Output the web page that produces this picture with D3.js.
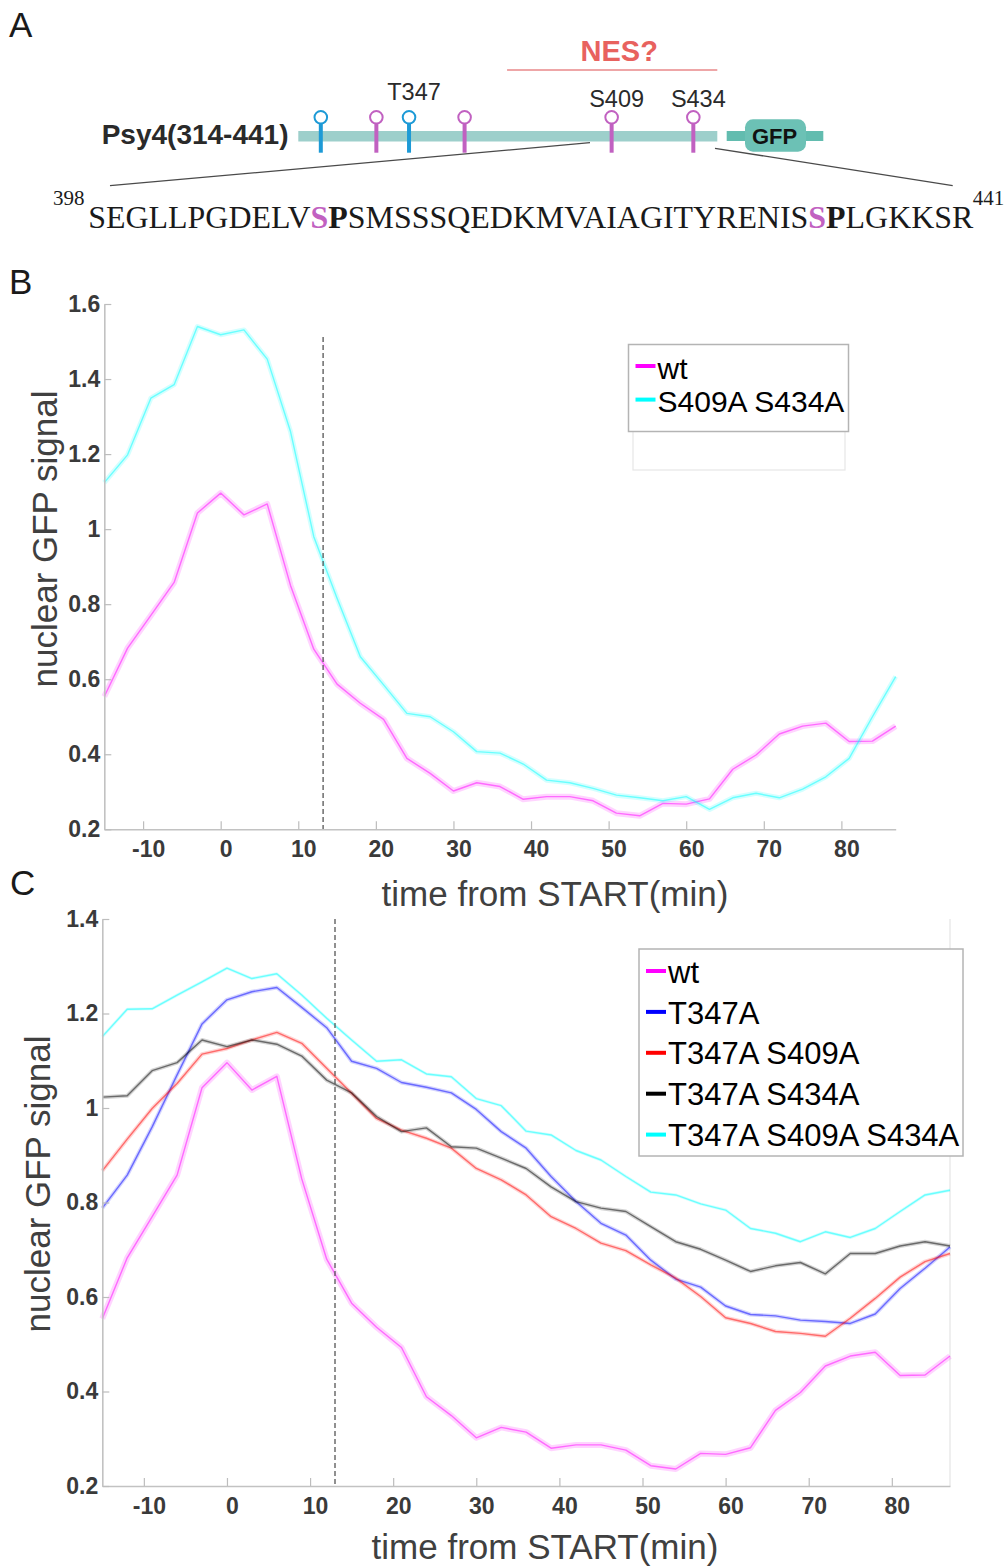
<!DOCTYPE html>
<html>
<head>
<meta charset="utf-8">
<script src="https://cdn.jsdelivr.net/npm/d3@7"></script>
<style>
body { margin: 0; background: #fff; }
svg { display: block; font-family: "Liberation Sans", Arial, Helvetica, sans-serif; }
</style>
</head>
<body>
<div id="fig"></div>
<script>
var width = 1006, height = 1566;

// ---- panel A: construct diagram ----
var constructName = "Psy4(314-441)";
var constructRange = [314, 441];
var siteRes = [320, 337, 347, 364, 409, 434];
var siteKind = ["TP", "SP", "TP", "SP", "SP", "SP"];
var siteNames = ["", "", "T347", "", "S409", "S434"];
var nesRange = [377, 441];
var seq = "SEGLLPGDELVSPSMSSSQEDKMVAIAGITYRENISSPLGKKSR";
var seqStart = 398, seqEnd = 441;
var seqSites = [409, 434];

// ---- panels B and C: time courses ----
var times = [-15, -12, -9, -6, -3, 0, 3, 6, 9, 12, 15, 18, 21, 24, 27, 30, 33, 36,
             39, 42, 45, 48, 51, 54, 57, 60, 63, 66, 69, 72, 75, 78, 81, 84, 87];
var xTicks = [-10, 0, 10, 20, 30, 40, 50, 60, 70, 80];
var yTicksB = [0.2, 0.4, 0.6, 0.8, 1.0, 1.2, 1.4, 1.6];
var yTicksC = [0.2, 0.4, 0.6, 0.8, 1.0, 1.2, 1.4];
var startLineB = 13.2, startLineC = 13.0;

var wt = [0.554, 0.683, 0.77, 0.858, 1.043, 1.096, 1.038, 1.067, 0.85, 0.68, 0.587, 0.536,
          0.493, 0.389, 0.349, 0.302, 0.324, 0.314, 0.28, 0.287, 0.287, 0.276, 0.243, 0.236,
          0.269, 0.267, 0.281, 0.36, 0.398, 0.454, 0.475, 0.483, 0.434, 0.435, 0.475];
var s409as434a = [1.124, 1.198, 1.349, 1.385, 1.540, 1.518, 1.531, 1.453, 1.26, 0.98, 0.816, 0.66,
                  0.585, 0.509, 0.50, 0.46, 0.407, 0.403, 0.374, 0.331, 0.324, 0.309, 0.291, 0.284,
                  0.276, 0.287, 0.253, 0.284, 0.296, 0.284, 0.307, 0.34, 0.389, 0.50, 0.607];
var t347a = [0.788, 0.858, 0.960, 1.070, 1.178, 1.229, 1.246, 1.255, 1.213, 1.17, 1.099, 1.084,
             1.054, 1.044, 1.032, 0.997, 0.95, 0.915, 0.855, 0.802, 0.756, 0.731, 0.678, 0.638,
             0.621, 0.581, 0.563, 0.560, 0.551, 0.548, 0.544, 0.564, 0.618, 0.661, 0.706];
var t347as409a = [0.867, 0.934, 0.999, 1.052, 1.114, 1.126, 1.144, 1.160, 1.137, 1.084, 1.031, 0.978,
                  0.953, 0.936, 0.915, 0.872, 0.848, 0.816, 0.770, 0.745, 0.714, 0.698, 0.668, 0.640,
                  0.601, 0.556, 0.544, 0.527, 0.523, 0.517, 0.555, 0.597, 0.642, 0.675, 0.692];
var t347as434a = [1.023, 1.026, 1.079, 1.096, 1.144, 1.130, 1.144, 1.135, 1.110, 1.059, 1.032, 0.982,
                  0.950, 0.958, 0.918, 0.915, 0.894, 0.872, 0.833, 0.802, 0.788, 0.781, 0.749, 0.717,
                  0.701, 0.678, 0.654, 0.666, 0.673, 0.649, 0.692, 0.692, 0.708, 0.717, 0.708];
var t347as409as434a = [1.151, 1.209, 1.210, 1.239, 1.267, 1.296, 1.274, 1.284, 1.239, 1.190, 1.144, 1.099,
                       1.102, 1.072, 1.066, 1.020, 1.005, 0.951, 0.943, 0.910, 0.890, 0.855, 0.822, 0.816,
                       0.797, 0.784, 0.745, 0.735, 0.717, 0.738, 0.726, 0.745, 0.781, 0.816, 0.826];

var seriesB = [
  {name: "wt", values: wt, color: "#ff00ff", band: 6},
  {name: "S409A S434A", values: s409as434a, color: "#00ffff", band: 5}
];
var seriesC = [
  {name: "wt", values: wt, color: "#ff00ff", band: 6},
  {name: "T347A", values: t347a, color: "#0000ff", band: 4},
  {name: "T347A S409A", values: t347as409a, color: "#ff0000", band: 4},
  {name: "T347A S434A", values: t347as434a, color: "#000000", band: 4},
  {name: "T347A S409A S434A", values: t347as409as434a, color: "#00ffff", band: 3}
];

var svg = d3.select("#fig").append("svg").attr("width", width).attr("height", height);

var panelLetter = function(txt, x, y) {
  svg.append("text").attr("x", x).attr("y", y).text(txt)
    .attr("font-size", 35).attr("fill", "#1a1a1a");
};

// ================= panel A =================
panelLetter("A", 9, 36.5);
var res = d3.scaleLinear().domain(constructRange).range([301.2, 716.2]);
var kindColor = {TP: "#1d9ad6", SP: "#c161c1"};

// NES bracket
svg.append("line").attr("x1", res(nesRange[0])).attr("x2", 717.3)
  .attr("y1", 70).attr("y2", 70).attr("stroke", "#e8888a").attr("stroke-width", 1.6);
svg.append("text").attr("x", (res(nesRange[0]) + 717.3) / 2 + 7).attr("y", 60.5)
  .attr("text-anchor", "middle").attr("font-size", 29).attr("font-weight", "bold")
  .attr("fill", "#e8625e").text("NES?");

// construct bar
svg.append("rect").attr("x", 298.3).attr("y", 131)
  .attr("width", 717.3 - 298.3).attr("height", 10.5)
  .attr("fill", "#9dcfcb");
svg.append("text").attr("x", 288.5).attr("y", 143.5).attr("text-anchor", "end")
  .attr("font-size", 28).attr("font-weight", "bold").attr("fill", "#2a2a2a").text(constructName);

// GFP tag
svg.append("rect").attr("x", 726.7).attr("y", 131).attr("width", 96.6).attr("height", 10).attr("fill", "#62bcaf");
svg.append("rect").attr("x", 745).attr("y", 119.3).attr("width", 61).attr("height", 32.4).attr("rx", 8)
  .attr("fill", "#6cc1b5");
svg.append("text").attr("x", 774.5).attr("y", 144).attr("text-anchor", "middle")
  .attr("font-size", 22).attr("font-weight", "bold").attr("fill", "#111").text("GFP");

// phospho-site lollipops
var sites = svg.append("g").selectAll("g").data(siteRes).enter().append("g");
sites.append("line").attr("x1", function(d) { return res(d); }).attr("x2", function(d) { return res(d); })
  .attr("y1", 123).attr("y2", 152.7).attr("stroke-width", 4)
  .attr("stroke", function(d, i) { return kindColor[siteKind[i]]; });
sites.append("circle").attr("cx", function(d) { return res(d); }).attr("cy", 117.3).attr("r", 6.3)
  .attr("fill", "#fff").attr("stroke-width", 2)
  .attr("stroke", function(d, i) { return kindColor[siteKind[i]]; });
sites.append("text").attr("x", function(d) { return res(d) + 5; })
  .attr("y", function(d, i) { return siteKind[i] == "TP" ? 100 : 106.7; })
  .attr("text-anchor", "middle").attr("font-size", 23.5).attr("fill", "#2a2a2a")
  .text(function(d, i) { return siteNames[i]; });

// callout lines to sequence
svg.append("line").attr("x1", 590).attr("y1", 142.7).attr("x2", 110).attr("y2", 185.7)
  .attr("stroke", "#4a4a4a").attr("stroke-width", 1.3);
svg.append("line").attr("x1", 715).attr("y1", 148.3).attr("x2", 952.7).attr("y2", 185.7)
  .attr("stroke", "#4a4a4a").attr("stroke-width", 1.3);

// sequence
var seqText = svg.append("text").attr("x", 88.3).attr("y", 228.3)
  .attr("font-family", "'Liberation Serif', 'Times New Roman', serif").attr("font-size", 32)
  .attr("fill", "#1a1a1a").attr("textLength", 885).attr("lengthAdjust", "spacingAndGlyphs");
var segs = [], cur = null;
for (var i = 0; i < seq.length; i++) {
  var resNum = seqStart + i;
  var style = "n";
  if (seqSites.indexOf(resNum) >= 0) style = "s";
  else if (seqSites.indexOf(resNum - 1) >= 0) style = "p";
  if (cur && cur.style == style) cur.txt += seq[i];
  else { cur = {style: style, txt: seq[i]}; segs.push(cur); }
}
seqText.selectAll("tspan").data(segs).enter().append("tspan")
  .text(function(d) { return d.txt; })
  .attr("font-weight", function(d) { return d.style == "n" ? "normal" : "bold"; })
  .attr("fill", function(d) { return d.style == "s" ? "#c161c1" : "#1a1a1a"; });
svg.append("text").attr("x", 53).attr("y", 205).attr("font-size", 21)
  .attr("font-family", "'Liberation Serif', 'Times New Roman', serif").attr("fill", "#1a1a1a").text(seqStart);
svg.append("text").attr("x", 972.7).attr("y", 205).attr("font-size", 21)
  .attr("font-family", "'Liberation Serif', 'Times New Roman', serif").attr("fill", "#1a1a1a").text(seqEnd);

// ================= line panels =================
var fmt = function(d) { return String(+d.toFixed(1)); };

var styleAxis = function(g) {
  g.attr("font-size", 23).attr("font-weight", "bold").attr("font-family", "'Liberation Sans', Arial, sans-serif");
  g.select(".domain").attr("stroke", "#c2c2c2").attr("stroke-width", 1.6);
  g.selectAll(".tick line").attr("stroke", "#bdbdbd").attr("stroke-width", 1.2);
  g.selectAll(".tick text").attr("fill", "#3a3a3a");
};

var drawSeries = function(g, x, y, s) {
  var line = d3.line().x(function(d, i) { return x(times[i]); }).y(function(d) { return y(d); });
  g.append("path").attr("d", line(s.values)).attr("fill", "none").attr("stroke", s.color)
    .attr("stroke-opacity", 0.17).attr("stroke-width", s.band).attr("stroke-linejoin", "round");
  g.append("path").attr("d", line(s.values)).attr("fill", "none").attr("stroke", s.color)
    .attr("stroke-opacity", 0.5).attr("stroke-width", 1.4).attr("stroke-linejoin", "round");
};

var drawPanel = function(opt) {
  var x = d3.scaleLinear().domain([-15, 87]).range(opt.xr);
  var y = d3.scaleLinear().domain([opt.yTicks[0], opt.yTicks[opt.yTicks.length - 1]]).range(opt.yr);
  var g = svg.append("g");

  if (opt.rightEdge) {
    g.append("line").attr("x1", opt.xr[1]).attr("x2", opt.xr[1]).attr("y1", opt.yr[1]).attr("y2", opt.yr[0])
      .attr("stroke", "#e4e4e4").attr("stroke-width", 1.2);
  }

  opt.series.forEach(function(s) { drawSeries(g, x, y, s); });

  g.append("line").attr("x1", x(opt.startLine)).attr("x2", x(opt.startLine))
    .attr("y1", y(opt.dashTop)).attr("y2", opt.yr[0])
    .attr("stroke", "#555").attr("stroke-width", 1.3).attr("stroke-dasharray", "5,3");

  var ax = g.append("g").attr("transform", "translate(0," + opt.yr[0] + ")")
    .call(d3.axisBottom(x).tickValues(xTicks).tickSize(-8).tickSizeOuter(0).tickPadding(opt.xPad).tickFormat(fmt));
  styleAxis(ax);
  ax.selectAll(".tick text").attr("x", 5);

  var ay = g.append("g").attr("transform", "translate(" + opt.xr[0] + ",0)")
    .call(d3.axisLeft(y).tickValues(opt.yTicks).tickSize(-7).tickSizeOuter(0).tickPadding(4).tickFormat(fmt));
  styleAxis(ay);

  g.append("text").attr("x", opt.xLabel[0]).attr("y", opt.xLabel[1]).attr("text-anchor", "middle")
    .attr("font-size", 35).attr("fill", "#404040").text("time from START(min)");
  g.append("text").attr("transform", "translate(" + opt.yLabel[0] + "," + opt.yLabel[1] + ") rotate(-90)")
    .attr("text-anchor", "middle").attr("font-size", 35).attr("fill", "#404040").text("nuclear GFP signal");

  // legend
  var lg = g.append("g");
  if (opt.ghost) {
    lg.append("rect").attr("x", opt.ghost[0]).attr("y", opt.ghost[1]).attr("width", opt.ghost[2]).attr("height", opt.ghost[3])
      .attr("fill", "#fff").attr("stroke", "#e6e6e6").attr("stroke-width", 1.2);
  }
  lg.append("rect").attr("x", opt.legend[0]).attr("y", opt.legend[1]).attr("width", opt.legend[2]).attr("height", opt.legend[3])
    .attr("fill", "#fff").attr("stroke", "#b4b4b4").attr("stroke-width", 1.5);
  var item = lg.selectAll(".item").data(opt.series).enter().append("g")
    .attr("transform", function(d, i) { return "translate(0," + (opt.legendY0 + i * opt.legendStep) + ")"; });
  item.append("line").attr("x1", opt.legend[0] + 7).attr("x2", opt.legend[0] + 27).attr("y1", 0).attr("y2", 0)
    .attr("stroke", function(d) { return d.color; }).attr("stroke-width", 4);
  item.append("text").attr("x", opt.legend[0] + 29).attr("y", opt.legendBase)
    .attr("font-size", opt.legendFont).attr("fill", "#000").text(function(d) { return d.name; });
};

panelLetter("B", 9, 294);
drawPanel({
  series: seriesB, yTicks: yTicksB, xr: [104.3, 895.7], yr: [829.3, 304],
  startLine: startLineB, dashTop: 1.512, xPad: 11,
  xLabel: [555, 906], yLabel: [57, 539],
  legend: [628.5, 344.5, 220, 87], ghost: [633, 350, 212, 120],
  legendY0: 366, legendStep: 33.6, legendBase: 12.8, legendFont: 30
});

panelLetter("C", 10, 895);
drawPanel({
  series: seriesC, yTicks: yTicksC, xr: [102.3, 950], yr: [1486, 919],
  startLine: startLineC, dashTop: 1.4, xPad: 12, rightEdge: true,
  xLabel: [545, 1559], yLabel: [50, 1184],
  legend: [639, 949, 324, 207],
  legendY0: 971, legendStep: 40.9, legendBase: 11.6, legendFont: 31
});
</script>
</body>
</html>
